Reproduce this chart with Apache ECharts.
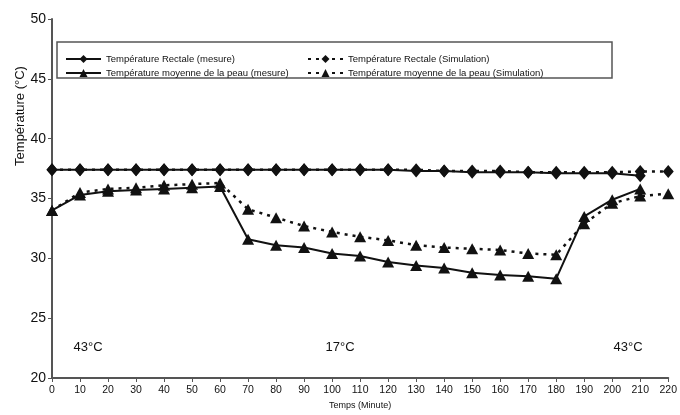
<!DOCTYPE html>
<html>
<head>
<meta charset="utf-8">
<script src="https://cdn.jsdelivr.net/npm/echarts@6/dist/echarts.min.js"></script>
<style>
  html, body { margin: 0; padding: 0; background: #fff; }
  #chart { width: 680px; height: 415px; }
</style>
</head>
<body>
<div id="chart"></div>
<script>
// minutes
const temps_mesure = [0, 10, 20, 30, 40, 50, 60, 70, 80, 90, 100, 110, 120, 130, 140, 150, 160, 170, 180, 190, 200, 210];
const temps_sim = [0, 10, 20, 30, 40, 50, 60, 70, 80, 90, 100, 110, 120, 130, 140, 150, 160, 170, 180, 190, 200, 210, 220];

// °C
const rectale_mesure = [37.4, 37.4, 37.4, 37.4, 37.4, 37.4, 37.4, 37.4, 37.4, 37.4, 37.4, 37.4, 37.4, 37.3, 37.3, 37.2, 37.2, 37.2, 37.1, 37.1, 37.1, 36.9];
const rectale_sim = [37.4, 37.4, 37.4, 37.4, 37.4, 37.4, 37.4, 37.4, 37.4, 37.4, 37.4, 37.4, 37.4, 37.4, 37.3, 37.3, 37.3, 37.2, 37.2, 37.2, 37.2, 37.25, 37.25];
const peau_mesure = [34.0, 35.3, 35.6, 35.7, 35.8, 35.9, 36.0, 31.6, 31.1, 30.9, 30.4, 30.2, 29.7, 29.4, 29.2, 28.8, 28.6, 28.5, 28.3, 33.5, 34.9, 35.8];
const peau_sim = [34.0, 35.5, 35.8, 35.9, 36.1, 36.2, 36.3, 34.1, 33.4, 32.7, 32.2, 31.8, 31.5, 31.1, 30.9, 30.8, 30.7, 30.4, 30.3, 32.9, 34.6, 35.2, 35.4];

const noms = [
    "Température Rectale (mesure)",
    "Température moyenne de la peau (mesure)",
    "Température Rectale (Simulation)",
    "Température moyenne de la peau (Simulation)",
];

// phase labels under the curves
const phases = [
    { label: "43°C", x: 88 },
    { label: "17°C", x: 340 },
    { label: "43°C", x: 628 },
];

const FONT = "Liberation Sans, Arial, sans-serif";
const INK = "#111";
const DOTS = [3, 5];

const pairs = (xs, ys) => ys.map((y, i) => [xs[i], y]);

function make_series(name, xs, ys, symbol, size, dotted) {
    return {
        name,
        type: "line",
        data: pairs(xs, ys),
        symbol,
        symbolSize: size,
        showSymbol: true,
        color: INK,
        itemStyle: { color: INK },
        lineStyle: { color: INK, width: dotted ? 2.5 : 2, type: dotted ? DOTS : "solid" },
        z: dotted ? 3 : 4,
        animation: false,
    };
}

const legend_base = {
    orient: "vertical",
    top: 49,
    itemWidth: 35,
    itemHeight: 10,
    itemGap: 4,
    textStyle: { fontFamily: FONT, fontSize: 9.5, color: "#111" },
    selectedMode: false,
};

const chart = echarts.init(document.getElementById("chart"), null, { renderer: "canvas" });

chart.setOption({
    backgroundColor: "#fff",
    animation: false,
    grid: { left: 52, right: 9, top: 19, bottom: 37, containLabel: false },
    legend: [
        { ...legend_base, left: 60, data: [noms[0], noms[1]] },
        { ...legend_base, left: 302, data: [noms[2], noms[3]] },
    ],
    xAxis: {
        type: "value",
        min: 0,
        max: 220,
        interval: 10,
        name: "Temps (Minute)",
        nameLocation: "middle",
        nameGap: 22,
        nameTextStyle: { fontFamily: FONT, fontSize: 9, color: "#111" },
        axisLine: { lineStyle: { color: "#555", width: 2 } },
        axisTick: { show: true, length: 4, lineStyle: { color: "#555" } },
        axisLabel: { fontFamily: FONT, fontSize: 10.5, color: "#111", margin: 7 },
        splitLine: { show: false },
    },
    yAxis: {
        type: "value",
        min: 20,
        max: 50,
        interval: 5,
        axisLine: { show: true, lineStyle: { color: "#555", width: 2 } },
        axisTick: { show: true, length: 4, lineStyle: { color: "#555" } },
        axisLabel: { fontFamily: FONT, fontSize: 14, color: "#111", margin: 6 },
        splitLine: { show: false },
    },
    graphic: [
        {
            type: "rect",
            shape: { x: 57, y: 42, width: 555, height: 36 },
            style: { fill: "none", stroke: "#555", lineWidth: 1.5 },
            silent: true,
        },
        {
            type: "text",
            x: 20,
            y: 116,
            rotation: Math.PI / 2,
            style: {
                text: "Température (°C)",
                font: "13px " + FONT,
                fill: "#111",
                textAlign: "center",
                textVerticalAlign: "middle",
            },
            silent: true,
        },
        ...phases.map((p) => ({
            type: "text",
            x: p.x,
            y: 347,
            style: {
                text: p.label,
                font: "13px " + FONT,
                fill: "#111",
                textAlign: "center",
                textVerticalAlign: "middle",
            },
            silent: true,
        })),
    ],
    series: [
        make_series(noms[0], temps_mesure, rectale_mesure, "diamond", [11, 13], false),
        make_series(noms[1], temps_mesure, peau_mesure, "triangle", [12, 11], false),
        make_series(noms[2], temps_sim, rectale_sim, "diamond", [11, 13], true),
        make_series(noms[3], temps_sim, peau_sim, "triangle", [12, 11], true),
    ],
});
</script>
</body>
</html>
